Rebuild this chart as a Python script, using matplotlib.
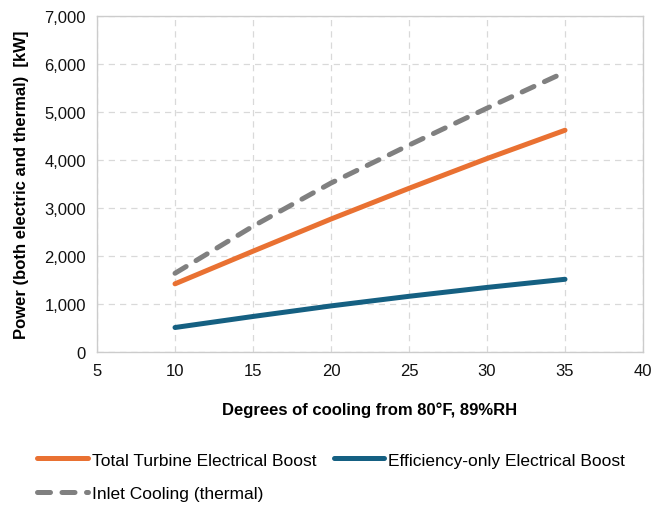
import matplotlib
matplotlib.use("Agg")
import matplotlib.pyplot as plt
from matplotlib.ticker import FuncFormatter

# cooling degrees (F)
degrees = [10, 15, 20, 25, 30, 35]
total_boost = [1420, 2100, 2770, 3410, 4030, 4620]
efficiency_boost = [510, 740, 960, 1160, 1345, 1515]
inlet_cooling = [1640, 2620, 3520, 4310, 5080, 5830]

labels = ["Total Turbine Electrical Boost",
          "Efficiency-only Electrical Boost",
          "Inlet Cooling (thermal)"]

plt.rcParams["font.family"] = ["Liberation Sans", "DejaVu Sans"]

fig = plt.figure(figsize=(6.52, 5.06), dpi=100)
ax = fig.add_axes([0.1488, 0.3024, 0.8374, 0.664])

l1, = ax.plot(degrees, total_boost, color="#E97132", lw=3.6,
              solid_capstyle="round", label=labels[0])
l2, = ax.plot(degrees, efficiency_boost, color="#156082", lw=3.6,
              solid_capstyle="round", label=labels[1])
l3, = ax.plot(degrees, inlet_cooling, color="#808080", lw=3.6,
              dashes=(2.6, 2.3), dash_capstyle="round", label=labels[2])

ax.set_xlim(5, 40)
ax.set_ylim(0, 7000)
ax.set_xticks(range(5, 41, 5))
ax.set_yticks(range(0, 7001, 1000))
ax.yaxis.set_major_formatter(FuncFormatter(lambda v, p: f"{int(v):,}"))
ax.tick_params(length=0, labelsize=12, pad=8, colors="#111111")

ax.grid(True, color="#d9d9d9", ls=(0, (5, 4)), lw=0.9)
ax.set_axisbelow(True)
for s in ax.spines.values():
    s.set_color("#cccccc")
    s.set_linewidth(1.0)

ax.set_xlabel("Degrees of cooling from 80°F, 89%RH", fontsize=12,
              fontweight="bold", labelpad=17)
ax.set_ylabel("Power (both electric and thermal)  [kW]", fontsize=12,
              fontweight="bold", labelpad=11)

# row-wise order: orange, blue / gray
leg = fig.legend(handles=[l1, l3, l2], loc="upper left", ncol=2,
                 bbox_to_anchor=(0.057, 0.104), frameon=False,
                 prop={"size": 12.5},
                 handlelength=2.9, handletextpad=0.25, columnspacing=1.0,
                 labelspacing=1.05, borderaxespad=0, borderpad=0)

fig.savefig("out.png", dpi=100)
